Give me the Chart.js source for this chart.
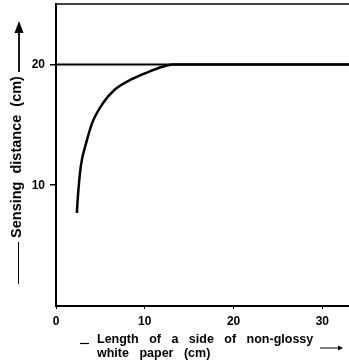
<!DOCTYPE html>
<html>
<head>
<meta charset="utf-8">
<script src="https://cdn.jsdelivr.net/npm/chart.js@4/dist/chart.umd.min.js"></script>
<style>
  html, body { margin: 0; padding: 0; background: #fff; }
  canvas { display: block; }
</style>
</head>
<body>
<canvas id="chart" width="349" height="364"></canvas>
<script>
// values
const sideLength = [2.35, 2.45, 2.8, 3.4, 4.1, 5.3, 6.6, 8.6, 10.5, 12.0, 13.1, 33];
const sensingDistance = [7.7, 8.9, 11.6, 13.5, 15.2, 16.8, 17.9, 18.8, 19.4, 19.8, 20, 20];
const refX = [0, 33];
const refY = [20, 20];
const xTicks = [0, 10, 20, 30];
const yTicks = [10, 20];
const yTitle = 'Sensing distance (cm)';
const xTitle = ['Length of a side of non-glossy', 'white paper (cm)'];

const FONT = '"Liberation Sans", Arial, sans-serif';

const frameAndTitles = {
  id: 'frameAndTitles',
  afterDraw(chart) {
    const ctx = chart.ctx;
    const a = chart.chartArea;
    ctx.save();
    ctx.strokeStyle = '#000';
    ctx.fillStyle = '#000';

    // top frame line
    ctx.lineWidth = 1.5;
    ctx.beginPath();
    ctx.moveTo(a.left - 1, a.top);
    ctx.lineTo(a.right, a.top);
    ctx.stroke();

    // y title with arrow
    ctx.save();
    ctx.translate(17, 157);
    ctx.rotate(-Math.PI / 2);
    ctx.font = 'bold 14.5px ' + FONT;
    ctx.wordSpacing = '4px';
    ctx.textAlign = 'center';
    ctx.textBaseline = 'middle';
    ctx.fillText(yTitle, 0, 0);
    ctx.restore();

    ctx.lineWidth = 1.8;
    ctx.beginPath();
    ctx.moveTo(19, 72);
    ctx.lineTo(19, 30);
    ctx.stroke();
    ctx.beginPath();
    ctx.moveTo(19, 21);
    ctx.lineTo(14.5, 33);
    ctx.lineTo(23.5, 33);
    ctx.closePath();
    ctx.fill();
    ctx.lineWidth = 1;
    ctx.beginPath();
    ctx.moveTo(18.5, 242);
    ctx.lineTo(18.5, 284);
    ctx.stroke();

    // x title
    ctx.font = 'bold 12.5px ' + FONT;
    ctx.wordSpacing = '7px';
    ctx.textAlign = 'left';
    ctx.textBaseline = 'alphabetic';
    ctx.fillText(xTitle[0], 97, 343);
    ctx.fillText(xTitle[1], 97, 357);

    ctx.lineWidth = 1.2;
    ctx.beginPath();
    ctx.moveTo(80, 343.5);
    ctx.lineTo(89, 343.5);
    ctx.stroke();
    ctx.lineWidth = 1;
    ctx.beginPath();
    ctx.moveTo(320, 348);
    ctx.lineTo(340, 348);
    ctx.stroke();
    ctx.beginPath();
    ctx.moveTo(343, 348);
    ctx.lineTo(338, 345.5);
    ctx.lineTo(338, 350.5);
    ctx.closePath();
    ctx.fill();
    ctx.restore();
  }
};

new Chart(document.getElementById('chart'), {
  type: 'scatter',
  data: {
    datasets: [
      {
        data: refX.map((x, i) => ({ x: x, y: refY[i] })),
        showLine: true,
        borderColor: '#000',
        borderWidth: 2,
        pointRadius: 0
      },
      {
        data: sideLength.map((x, i) => ({ x: x, y: sensingDistance[i] })),
        showLine: true,
        borderColor: '#000',
        borderWidth: 2.5,
        pointRadius: 0,
        cubicInterpolationMode: 'monotone'
      }
    ]
  },
  options: {
    responsive: false,
    animation: false,
    devicePixelRatio: 1,
    layout: { padding: { top: 4, right: 0, left: 0, bottom: 0 } },
    plugins: {
      legend: { display: false },
      tooltip: { enabled: false }
    },
    scales: {
      x: {
        type: 'linear',
        min: 0,
        max: 33,
        afterBuildTicks: s => { s.ticks = xTicks.map(v => ({ value: v })); },
        afterFit: s => { s.height = 58; s.paddingRight = 0; },
        border: { color: '#000', width: 2 },
        grid: { drawOnChartArea: false, drawTicks: true, tickLength: 3, color: '#000', lineWidth: 1 },
        ticks: {
          color: '#000',
          padding: 5,
          maxRotation: 0,
          font: { family: FONT, size: 12, weight: 'bold' }
        }
      },
      y: {
        min: 0,
        max: 25,
        afterBuildTicks: s => { s.ticks = yTicks.map(v => ({ value: v })); },
        afterFit: s => { s.width = 56; s.paddingTop = 0; s.paddingBottom = 0; },
        border: { color: '#000', width: 2 },
        grid: { drawOnChartArea: false, drawTicks: true, tickLength: 6, color: '#000', lineWidth: 1.5 },
        ticks: {
          color: '#000',
          padding: 5,
          font: { family: FONT, size: 12, weight: 'bold' }
        }
      }
    }
  },
  plugins: [frameAndTitles]
});
</script>
</body>
</html>
